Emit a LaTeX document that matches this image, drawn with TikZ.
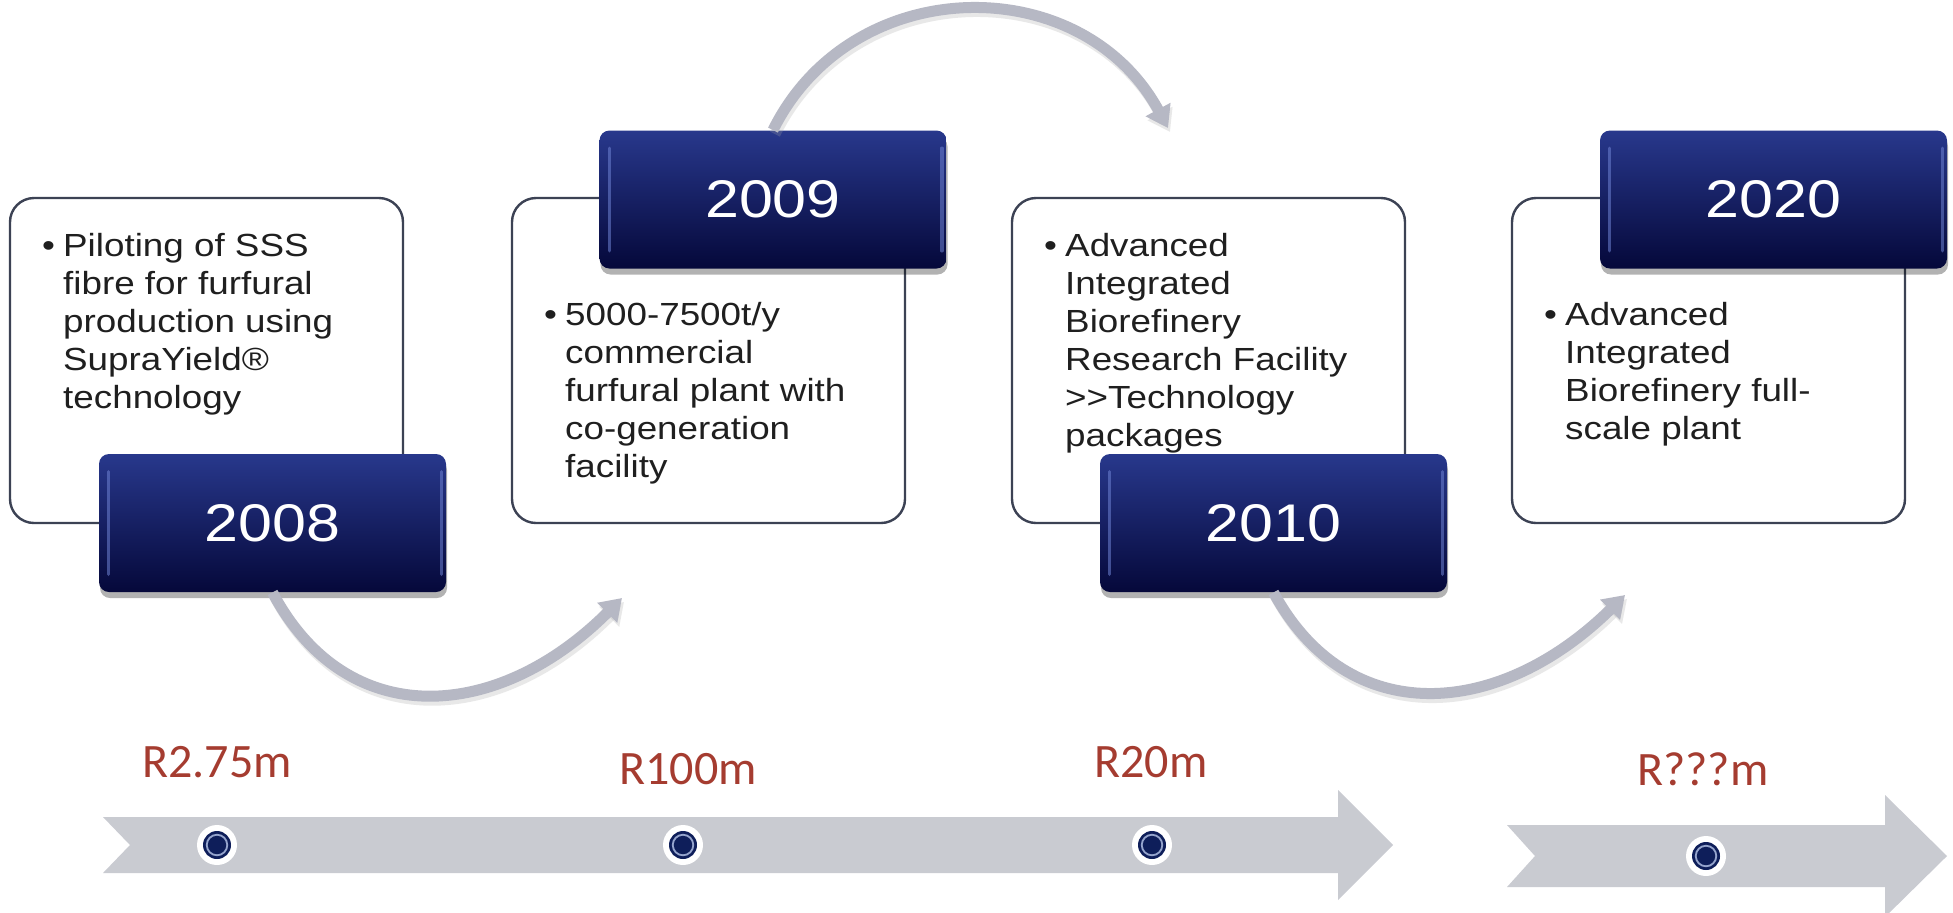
\documentclass[tikz,border=0pt]{standalone}
\usepackage{fontspec}
\usetikzlibrary{arrows.meta}
\newfontfamily\bodyfont[FakeStretch=1.15]{Liberation Sans}
\newfontfamily\labelfont{Carlito}
\definecolor{navytop}{RGB}{40,56,140}
\definecolor{navybot}{RGB}{5,8,58}
\definecolor{boxline}{RGB}{60,66,84}
\definecolor{bararrow}{RGB}{201,203,209}
\definecolor{arcgray}{RGB}{182,184,196}
\definecolor{arcedge}{RGB}{150,152,165}
\definecolor{moneyred}{RGB}{165,60,48}
\definecolor{dotnavy}{RGB}{14,30,90}
\definecolor{dotring}{RGB}{150,165,205}
\definecolor{hilitecol}{RGB}{110,130,210}
\begin{document}
\begin{tikzpicture}[x=0.5pt,y=-0.5pt,
  whitebox/.style={draw=boxline, line width=1.2pt, rounded corners=12pt, fill=white,
    minimum width=196.5pt, minimum height=162.5pt, inner sep=0pt},
  yearbox/.style={rounded corners=5pt, top color=navytop, bottom color=navybot,
    minimum width=173.5pt, minimum height=69pt, inner sep=0pt, text=white,
    font=\bodyfont\fontsize{26.5}{30}\selectfont,
    preaction={fill=black, opacity=.3, transform canvas={xshift=0.5pt,yshift=-3pt}}},
  hilite/.style={draw=hilitecol, line width=1.6pt, opacity=.55, line cap=round},
  bodytext/.style={anchor=base west, inner sep=0pt, align=left,
    font=\bodyfont\fontsize{16}{19}\selectfont, text=black!88},
  bulletmark/.style={anchor=base west, inner sep=0pt,
    font=\bodyfont\fontsize{16}{19}\selectfont, text=black!88},
  money/.style={anchor=base, inner sep=0pt, font=\labelfont\fontsize{24}{28}\selectfont, text=moneyred},
  bar/.style={fill=bararrow},
  arcarrow/.style={draw=arcgray, line width=5.5pt, -{Triangle[width=13.5pt,length=10.5pt]}},
  arcshadow/.style={draw=black!35, opacity=.25, line width=5.5pt, -{Triangle[width=13.5pt,length=10.5pt]},
    transform canvas={xshift=1pt,yshift=-2pt}},
  dot/.style={circle, fill=white, minimum size=20pt, inner sep=0pt}
]
\fill[white] (0,0) rectangle (1953,912);
\useasboundingbox (0,0) rectangle (1953,912);

% bottom timeline arrows
\fill[bar] (103,817) -- (1338,817) -- (1338,790) -- (1393,845) -- (1338,900) -- (1338,873) -- (103,873) -- (130,845) -- cycle;
\fill[bar] (1507,825) -- (1885,825) -- (1885,795) -- (1947,856) -- (1885,917) -- (1885,887) -- (1507,887) -- (1535,856) -- cycle;

% dots
\foreach \n/\px/\py in {d1/217/845, d2/683/845, d3/1152/845, d4/1706/856}{
  \node[dot] (\n) at (\px,\py) {};
  \fill[dotnavy] (\n) circle[radius=7pt];
  \fill[dotring] (\n) circle[radius=5.6pt];
  \fill[dotnavy] (\n) circle[radius=4.6pt];
}

% money labels
\node[money] (m1) at (217,777) {R2.75m};
\node[money] (m2) at (688,784) {R100m};
\node[money] (m3) at (1151,777) {R20m};
\node[money] (m4) at (1703,785) {R???m};

% white boxes
\node[whitebox] (b1) at (206.5,360.5) {};
\node[whitebox] (b2) at (708.5,360.5) {};
\node[whitebox] (b3) at (1208.5,360.5) {};
\node[whitebox] (b4) at (1708.5,360.5) {};

% texts (base anchor of a multi-line node is the last line's baseline)
\node[bulletmark] (u1) at ([shift={(33,60)}]b1.north west) {•};
\node[bodytext] (t1) at ([shift={(54,212)}]b1.north west) {Piloting of SSS\\fibre for furfural\\production using\\SupraYield®\\technology};
\node[bulletmark] (u2) at ([shift={(33,129)}]b2.north west) {•};
\node[bodytext] (t2) at ([shift={(54,281)}]b2.north west) {5000-7500t/y\\commercial\\furfural plant with\\co-generation\\facility};
\node[bulletmark] (u3) at ([shift={(33,60)}]b3.north west) {•};
\node[bodytext] (t3) at ([shift={(54,250)}]b3.north west) {Advanced\\Integrated\\Biorefinery\\Research Facility\\>{}>Technology\\packages};
\node[bulletmark] (u4) at ([shift={(33,129)}]b4.north west) {•};
\node[bodytext] (t4) at ([shift={(54,243)}]b4.north west) {Advanced\\Integrated\\Biorefinery full-\\scale plant};

% year boxes
\node[yearbox] (y2008) at (272.5,523) {2008};
\node[yearbox] (y2009) at (773,199.5) {2009};
\node[yearbox] (y2010) at (1273.5,523) {2010};
\node[yearbox] (y2020) at (1773.5,199.5) {2020};
\foreach \y in {y2008,y2009,y2010,y2020}{
  \draw[hilite] ([xshift=5pt,yshift=-9pt]\y.north west) -- ([xshift=5pt,yshift=9pt]\y.south west);
  \draw[hilite] ([xshift=-2.5pt,yshift=-9pt]\y.north east) -- ([xshift=-2.5pt,yshift=9pt]\y.south east);
}

% curved arrows
\coordinate (e1) at (622,598);
\coordinate (e2) at (1168,128);
\coordinate (e3) at (1625,595);
\draw[arcshadow] (y2008.south) .. controls (347,733) and (498,722) .. (e1);
\draw[arcarrow] (y2008.south) .. controls (347,733) and (498,722) .. (e1);
\draw[arcshadow] (y2009.north) .. controls (852,-29) and (1082,-31) .. (e2);
\draw[arcarrow] (y2009.north) .. controls (852,-29) and (1082,-31) .. (e2);
\draw[arcshadow] (y2010.south) .. controls (1348,730) and (1499,719) .. (e3);
\draw[arcarrow] (y2010.south) .. controls (1348,730) and (1499,719) .. (e3);
\end{tikzpicture}
\end{document}
